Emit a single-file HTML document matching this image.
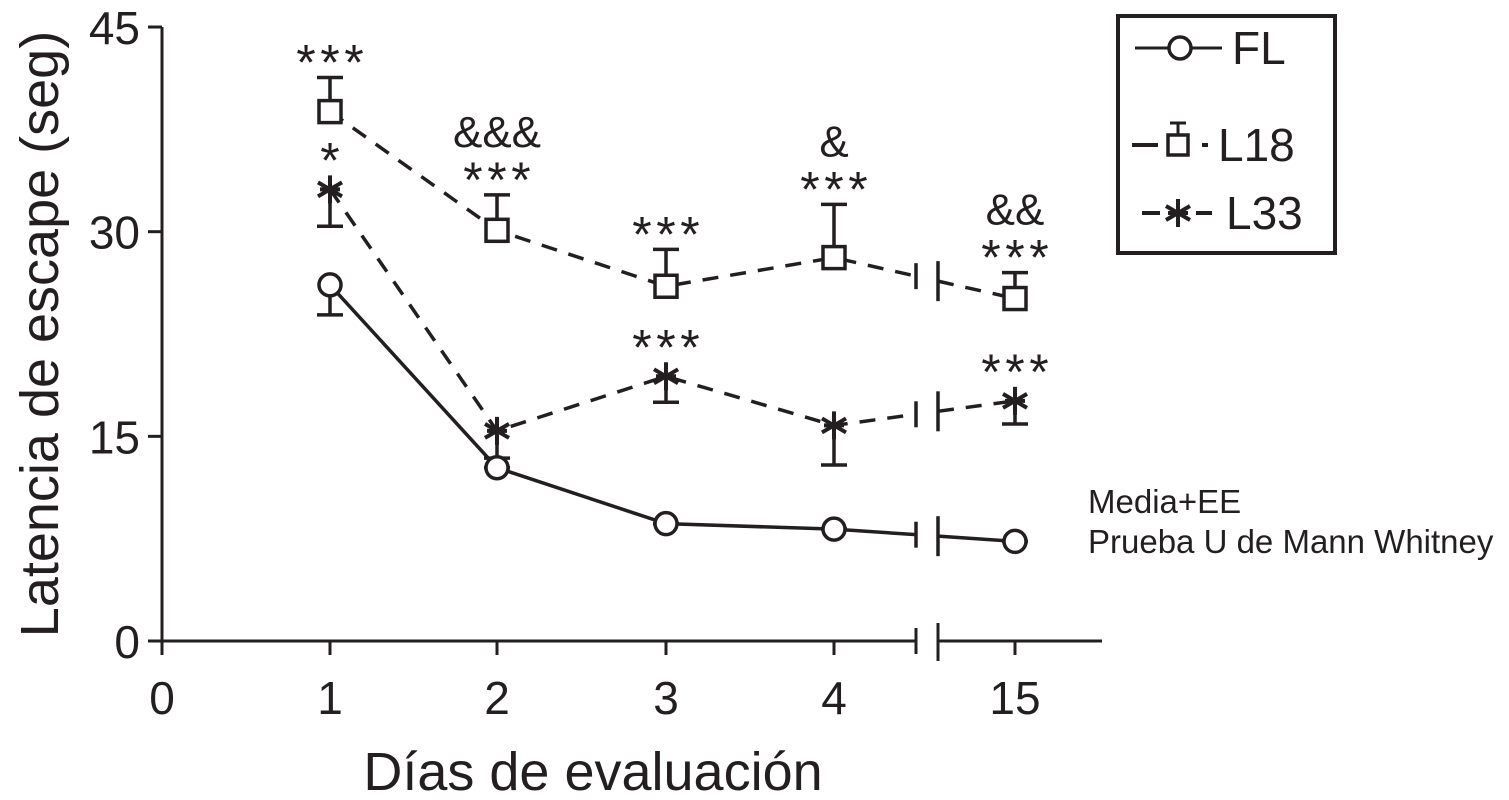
<!DOCTYPE html>
<html><head><meta charset="utf-8"><style>
html,body{margin:0;padding:0;background:#fff;}
svg{display:block;font-family:"Liberation Sans",sans-serif;}
</style></head><body>
<svg id="chart" width="1509" height="800" viewBox="0 0 1509 800">
<g id="axes"></g>
<g id="series"></g>
<g id="legend">
<rect x="1118" y="16" width="217" height="237" fill="none" stroke="#231f20" stroke-width="4"/>
<g>
<line x1="1135" y1="48" x2="1222" y2="48" stroke="#231f20" stroke-width="3"/>
<circle cx="1180" cy="48" r="11" fill="#fff" stroke="#231f20" stroke-width="3.5"/>
<text x="1232" y="64" font-size="46" fill="#231f20">FL</text></g>
<g>
<line x1="1132" y1="145" x2="1158" y2="145" stroke="#231f20" stroke-width="4"/>
<line x1="1178" y1="123" x2="1178" y2="135" stroke="#231f20" stroke-width="3"/>
<line x1="1170" y1="123" x2="1186" y2="123" stroke="#231f20" stroke-width="3"/>
<rect x="1168" y="135" width="20" height="20" fill="#fff" stroke="#231f20" stroke-width="3.5"/>
<line x1="1202" y1="145" x2="1208" y2="145" stroke="#231f20" stroke-width="4"/>
<text x="1218" y="161" font-size="46" fill="#231f20">L18</text></g>
<g>
<line x1="1142" y1="213" x2="1160" y2="213" stroke="#231f20" stroke-width="4"/>
<line x1="1196" y1="213" x2="1212" y2="213" stroke="#231f20" stroke-width="4"/>
<path d="M1178 199V227M1166 206L1190 220M1166 220L1190 206M1168 213H1188" stroke="#231f20" stroke-width="4"/>
<text x="1226" y="229" font-size="46" fill="#231f20">L33</text></g>
</g>
<text x="1088" y="513" font-size="33" fill="#231f20">Media+EE</text>
<text x="1088" y="553" font-size="33" fill="#231f20">Prueba U de Mann Whitney</text>
<text x="593" y="790" font-size="54" text-anchor="middle" fill="#231f20">Días de evaluación</text>
<text transform="translate(58,334) rotate(-90)" font-size="54" text-anchor="middle" fill="#231f20">Latencia de escape (seg)</text>
</svg>
<script>
const categories = ["1","2","3","4","15"];
const flValues = [26.1, 12.7, 8.6, 8.2, 7.3];
const flErrLow = [23.9, 12.7, 8.6, 8.2, 7.3];
const l18Values = [38.8, 30.1, 26.0, 28.1, 25.1];
const l18ErrHigh = [41.3, 32.7, 28.7, 32.0, 27.0];
const l33Values = [33.1, 15.4, 19.4, 15.8, 17.6];
const l33ErrLow = [30.4, 13.4, 17.5, 12.9, 15.9];
const yTicks = [0, 15, 30, 45];
const l18Marks = ["***", "***", "***", "***", "***"];
const l18Marks2 = ["", "&&&", "", "&", "&&"];
const l33Marks = ["*", "", "***", "", "***"];

const NS = "http://www.w3.org/2000/svg";
const C = "#231f20";
const xPos = [330, 497, 666, 834, 1015];
function xs(i){ return xPos[i]; }
function ys(v){ return 641 - v * 13.644; }
function mk(tag, attrs, parent){ const e = document.createElementNS(NS, tag); for (const k in attrs) e.setAttribute(k, attrs[k]); parent.appendChild(e); return e; }
const axes = document.getElementById('axes');
const ser = document.getElementById('series');

let ya = mk('line', {x1:162, y1:27, x2:162, y2:643, stroke:C, 'stroke-width':3}, axes);


yTicks.forEach(t => {
  mk('line', {x1:148, y1:ys(t), x2:162, y2:ys(t), stroke:C, 'stroke-width':3}, axes);
  const tx = mk('text', {x:140, y:ys(t)+17, 'font-size':46, 'text-anchor':'end', fill:C}, axes);
  tx.textContent = t;
  
  
});
const xa = mk('path', {d:'M162 641H916M916 628V654M938 623V661M938 641H1102', stroke:C, 'stroke-width':3, fill:'none'}, axes);


const xlabels = ["0"].concat(categories);
[162].concat(xPos).forEach((x, i) => {
  mk('line', {x1:x, y1:641, x2:x, y2:655, stroke:C, 'stroke-width':3}, axes);
  const tx = mk('text', {x:x, y:714, 'font-size':46, 'text-anchor':'middle', fill:C}, axes);
  tx.textContent = xlabels[i];
  
  
});

function drawLine(vals, dash, name){
  const g = mk('g', {}, ser);
  
  
  const st = {stroke:C, 'stroke-width':3.5, fill:'none'};
  if (dash) st['stroke-dasharray'] = '16 12';
  let d = 'M' + xs(0) + ' ' + ys(vals[0]);
  for (let i = 1; i < 4; i++) d += 'L' + xs(i) + ' ' + ys(vals[i]);
  const interp = x => vals[3] + (vals[4]-vals[3]) * (x - xs(3)) / (xs(4) - xs(3));
  d += 'L916 ' + ys(interp(916));
  mk('path', Object.assign({d:d}, st), g);
  mk('path', Object.assign({d:'M938 '+ys(interp(938))+'L'+xs(4)+' '+ys(vals[4])}, st), g);
  mk('line', {x1:916, y1:ys(interp(916))-13, x2:916, y2:ys(interp(916))+13, stroke:C, 'stroke-width':3.5}, g);
  mk('line', {x1:938, y1:ys(interp(938))-20, x2:938, y2:ys(interp(938))+20, stroke:C, 'stroke-width':3.5}, g);
}
function errBar(i, v, e, name){
  const l = mk('path', {d:'M'+xs(i)+' '+ys(v)+'V'+ys(e)+'M'+(xs(i)-13)+' '+ys(e)+'H'+(xs(i)+13), stroke:C, 'stroke-width':3.5, fill:'none'}, ser);
  
  
}
function label(x, y, s, size){
  if (!s) return;
  const t = mk('text', {x:x, y:y, 'font-size':size, 'text-anchor':'middle', fill:C}, ser);
  t.textContent = s;
  
  
}
function stars(x, y, s){
  if (!s) return;
  const g = mk('g', {}, ser);
  
  
  const n = s.length;
  for (let k = 0; k < n; k++){
    const t = mk('text', {x:x + (k - (n-1)/2)*24, y:y, 'font-size':50, 'text-anchor':'middle', fill:C}, g);
    t.textContent = '*';
  }
}

drawLine(flValues, false, 'fl');
drawLine(l18Values, true, 'l18');
drawLine(l33Values, true, 'l33');

categories.forEach((c, i) => {
  errBar(i, flValues[i], flErrLow[i], 'fl');
  errBar(i, l18Values[i], l18ErrHigh[i], 'l18');
  errBar(i, l33Values[i], l33ErrLow[i], 'l33');
  const p = mk('circle', {cx:xs(i), cy:ys(flValues[i]), r:11, fill:'#fff', stroke:C, 'stroke-width':3.5}, ser);
  
  
  const s = mk('rect', {x:xs(i)-11, y:ys(l18Values[i])-11, width:22, height:22, fill:'#fff', stroke:C, 'stroke-width':3.5}, ser);
  
  
  const X = xs(i), Y = ys(l33Values[i]);
  const a = mk('path', {d:`M${X} ${Y-14}V${Y+14}M${X-12} ${Y-7}L${X+12} ${Y+7}M${X-12} ${Y+7}L${X+12} ${Y-7}M${X-10} ${Y}H${X+10}`, stroke:C, 'stroke-width':4, fill:'none'}, ser);
  
  
  const topY = ys(l18ErrHigh[i]);
  stars(xs(i), topY + 2, l18Marks[i]);
  label(xs(i), topY - 48, l18Marks2[i], 44);
  stars(xs(i), Y - 12, l33Marks[i]);
});
</script>
</body></html>
